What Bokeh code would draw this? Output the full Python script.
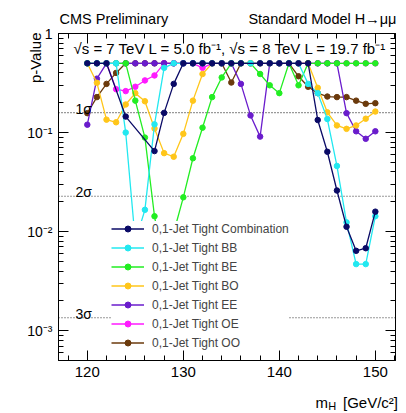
from bokeh.plotting import figure
from bokeh.models import (Range1d, FixedTicker, LinearAxis, LogAxis, Span, Label,
                          Legend, LegendItem, CustomJSTickFormatter)
from bokeh.embed import file_html
from bokeh.resources import INLINE

FONT = "Liberation Sans"

# ---------------- data ----------------
masses = list(range(120, 151))
masses_comb = [120, 121, 122, 124, 127, 128, 129, 130, 131, 132, 133, 134, 135, 136,
               138, 139, 140, 141, 142, 143, 144, 145, 146, 147, 148, 149, 150]
p_comb = [0.5, 0.5, 0.5, 0.145, 0.065, 0.158, 0.31, 0.5, 0.5, 0.5, 0.5, 0.5, 0.5, 0.5,
          0.5, 0.5, 0.5, 0.5, 0.5, 0.5, 0.134, 0.064, 0.026, 0.0112, 0.0064, 0.0068, 0.0159]
p_bb = [0.5, 0.5, 0.5, 0.5, 0.10, 0.008, 0.0166, 0.121, 0.45, 0.5, 0.5, 0.5, 0.5, 0.5,
        0.5, 0.5, 0.5, 0.5, 0.5, 0.5, 0.5, 0.5, 0.5, 0.31, 0.25, 0.137, 0.046, 0.0124,
        0.0047, 0.0047, 0.0143]
p_be = [0.5, 0.5, 0.5, 0.5, 0.5, 0.21, 0.089, 0.0143, 0.004, 0.0098, 0.0222, 0.055,
        0.112, 0.228, 0.36, 0.5, 0.5, 0.5, 0.39, 0.30, 0.25, 0.5, 0.30, 0.5, 0.5, 0.5,
        0.5, 0.5, 0.5, 0.5, 0.5]
p_bo = [0.5, 0.318, 0.135, 0.127, 0.192, 0.25, 0.207, 0.11, 0.062, 0.057, 0.097, 0.21,
        0.39, 0.5, 0.5, 0.5, 0.5, 0.5, 0.5, 0.5, 0.5, 0.5, 0.5, 0.5, 0.283, 0.16, 0.118,
        0.109, 0.118, 0.138, 0.163]
p_ee = [0.12, 0.35, 0.5, 0.5, 0.5, 0.5, 0.5, 0.5, 0.5, 0.5, 0.5, 0.5, 0.5, 0.5, 0.5,
        0.5, 0.31, 0.149, 0.091, 0.5, 0.5, 0.5, 0.5, 0.5, 0.5, 0.5, 0.5, 0.157, 0.103,
        0.0865, 0.103]
p_oe = [0.5, 0.5, 0.5, 0.274, 0.262, 0.29, 0.336, 0.377, 0.5, 0.5, 0.5, 0.5, 0.45, 0.5,
        0.5, 0.5, 0.5, 0.5, 0.5, 0.5, 0.5, 0.5, 0.5, 0.5, 0.5, 0.5, 0.5, 0.5, 0.5, 0.5, 0.5]
p_oo = [0.157, 0.228, 0.31, 0.40, 0.5, 0.5, 0.5, 0.5, 0.5, 0.5, 0.5, 0.5, 0.5, 0.5, 0.5,
        0.32, 0.5, 0.5, 0.5, 0.5, 0.5, 0.5, 0.37, 0.29, 0.25, 0.231, 0.228, 0.228, 0.21,
        0.195, 0.198]

series_names = ["0,1-Jet Tight Combination", "0,1-Jet Tight BB", "0,1-Jet Tight BE",
                "0,1-Jet Tight BO", "0,1-Jet Tight EE", "0,1-Jet Tight OE", "0,1-Jet Tight OO"]
series_colors = ["#0a0a66", "#22e8f0", "#22ee22", "#ffc61a", "#6a1ccc", "#ff1aff", "#6b3a0c"]

sigma_p = [0.1587, 0.02275, 0.00135]
sigma_labels = ["1σ", "2σ", "3σ"]

x_major = [120, 130, 140, 150]
x_minor = [118, 122, 124, 126, 128, 132, 134, 136, 138, 142, 144, 146, 148, 152]
y_major = [0.001, 0.01, 0.1, 1.0]
y_minor = [m * 10.0 ** e for e in (-4, -3, -2, -1) for m in range(2, 10) if m * 10.0 ** e >= 5e-4]

# ---------------- figure ----------------
p = figure(width=406, height=413, x_range=Range1d(117, 152.1), y_range=Range1d(5e-4, 1),
           y_axis_type="log", output_backend="svg", toolbar_location=None,
           min_border_left=58, min_border_right=11, min_border_top=33, min_border_bottom=53)
p.background_fill_color = "white"
p.border_fill_color = "white"
p.outline_line_color = "black"
p.outline_line_width = 1
p.xgrid.visible = False
p.ygrid.visible = False

xt = FixedTicker(ticks=x_major, minor_ticks=x_minor)
yt = FixedTicker(ticks=y_major, minor_ticks=y_minor)
ylab = CustomJSTickFormatter(code="""
const e = Math.round(Math.log10(tick));
if (e == 0) return '1';
const sup = {'-':'\u207b','0':'\u2070','1':'\u00b9','2':'\u00b2','3':'\u00b3','4':'\u2074'};
return '10' + String(e).split('').map(c => sup[c]).join('');
""")
blank = CustomJSTickFormatter(code="return '';")

def style_axis(ax, size="15px"):
    ax.axis_line_color = "black"
    ax.major_tick_line_color = "black"
    ax.minor_tick_line_color = "black"
    ax.major_tick_in = 10
    ax.major_tick_out = 0
    ax.minor_tick_in = 5
    ax.minor_tick_out = 0
    ax.major_label_text_font = FONT
    ax.major_label_text_font_size = size
    ax.major_label_text_color = "black"
    ax.major_label_standoff = 6

xa = p.xaxis[0]
xa.ticker = xt
style_axis(xa)
ya = p.yaxis[0]
ya.ticker = yt
ya.formatter = ylab
style_axis(ya, "14px")

top = LinearAxis(ticker=xt, formatter=blank)
style_axis(top)
top.major_label_standoff = 0
p.add_layout(top, "above")
right = LogAxis(ticker=yt, formatter=blank)
style_axis(right)
right.major_label_standoff = 0
p.add_layout(right, "right")

# sigma lines
for sp, sl in zip(sigma_p, sigma_labels):
    p.add_layout(Span(location=sp, dimension="width", line_color="#333333",
                      line_width=1.2, line_dash="1 2", level="underlay"))
    p.add_layout(Label(x=17, y=sp, x_units="screen", y_units="data", text=sl,
                       y_offset=4, text_font=FONT, text_font_size="14px",
                       text_baseline="alphabetic", text_color="black"))

# curves, drawn in reverse so the combination is on top
xs_list = [masses_comb] + [masses] * 6
ys_list = [p_comb, p_bb, p_be, p_bo, p_ee, p_oe, p_oo]
rends = [None] * 7
for i in reversed(range(7)):
    lr = p.line(xs_list[i], ys_list[i], line_color=series_colors[i], line_width=1.3)
    sr = p.scatter(xs_list[i], ys_list[i], marker="circle", size=5.5,
                   fill_color=series_colors[i], line_color=series_colors[i])
    rends[i] = [lr, sr]

legend = Legend(items=[LegendItem(label=series_names[i], renderers=rends[i]) for i in range(7)],
                location=(53, 10), glyph_width=33, glyph_height=15, label_height=15,
                spacing=4, padding=3, margin=0, label_standoff=8,
                label_text_font=FONT, label_text_font_size="12px",
                border_line_color=None, background_fill_color="white",
                background_fill_alpha=1.0)
p.add_layout(legend)

# energy text inside frame
p.add_layout(Label(x=15, y=311.7, x_units="screen", y_units="screen",
                   text="\u221as = 7 TeV L = 5.0 fb\u207b\u00b9, \u221as = 8 TeV L = 19.7 fb\u207b\u00b9",
                   text_font=FONT, text_font_size="15px", text_baseline="alphabetic",
                   text_color="black"))

# texts outside the frame: placed in side panels (not clipped), positioned
# through the plot's own scales so panel stacking does not matter
def lab(side, x, y, text, size="15px", align="left", angle=0):
    p.add_layout(Label(x=x, y=y, x_units="data", y_units="data", text=text,
                       text_font=FONT, text_font_size=size, text_align=align,
                       text_baseline="alphabetic", angle=angle, text_color="black"), side)

lab("above", 117.1, 1.40, "CMS Preliminary", size="14.5px")
lab("above", 152.2, 1.40, "Standard Model H\u2192\u03bc\u03bc", size="14.5px", align="right")
lab("left", 114.6, 1.023, "p-Value", align="right", angle=1.5707963)
lab("below", 143.77, 1.862e-4, "m\u2003[GeV/c\u00b2]")
lab("below", 145.1, 1.738e-4, "H", size="11px")

open("out.html", "w").write(file_html(p, INLINE))
